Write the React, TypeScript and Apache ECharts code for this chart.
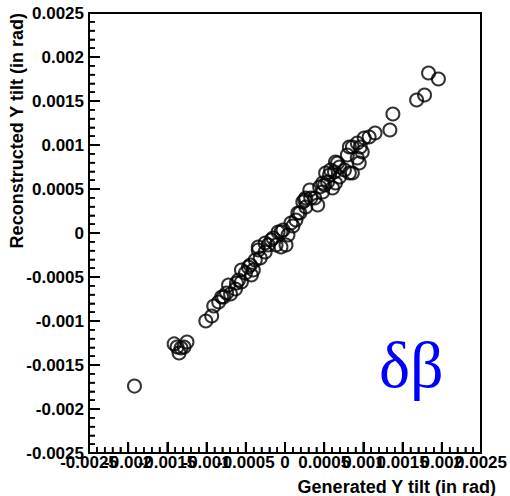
import React, { useEffect, useRef } from "react";
import * as echarts from "echarts";

const xTitle = "Generated Y tilt (in rad)";
const yTitle = "Reconstructed Y tilt (in rad)";
const label = "δβ";
const axisMin = -0.0025;
const axisMax = 0.0025;
const axisStep = 0.0005;
const minorPerMajor = 5;

const genX = [
  -0.00192, -0.001414, -0.001326, -0.001351, -0.00125, -0.001288, -0.001377,
  -0.00101, -0.000935, -0.000909, -0.000846, -0.000783, -0.000745, -0.000695, -0.000632, -0.000619,
  -0.000556, -0.000556, -0.000505, -0.000429, -0.000442, -0.000404, -0.000316, -0.000341, -0.000253,
  -0.000215, -0.000152, -0.000114, -0.000088, -0.000025, 0.000013, 0.000038, 0.000076, 0.000101,
  0.000139, 0.000189, 0.000227, 0.000265, 0.000265, 0.000316, 0.000328, 0.000379, 0.000417, 0.000442,
  0.00048, 0.000505, 0.000543, 0.00048, 0.000518, 0.000568, 0.000606, 0.000631, 0.000644, 0.000695,
  0.000695, 0.000758, 0.000821, 0.000644, 0.000795, 0.000821, 0.000859, 0.000922, 0.000947, 0.00096,
  0.000985, 0.00101, 0.001073, 0.001149, 0.001338, 0.001376, 0.001679, 0.00178, 0.001831, 0.001957,
  0.000859, 0.000669, -0.000051, -0.000177, -0.000253, -0.000341,
  -0.000808, -0.000467, -0.000379, 0.000164, 0.000253, 0.000581, 0.000922, -0.000051, -0.000593, -0.00072,
];

const recoY = [
  -0.00174, -0.00126, -0.001307, -0.001364, -0.001239, -0.001295, -0.001295,
  -0.001, -0.000943, -0.00083, -0.000784, -0.000727, -0.000682, -0.000693, -0.000636, -0.000568,
  -0.000557, -0.00042, -0.000454, -0.000477, -0.000364, -0.00042, -0.000284, -0.000193, -0.000216,
  -0.000136, -0.000057, -0.000136, 0.000011, 0.000034, -0.000136, -0.000023, 0.000114, 0.00008,
  0.000148, 0.000227, 0.000352, 0.000295, 0.000398, 0.000489, 0.000398, 0.000398, 0.000318, 0.000523,
  0.000568, 0.000545, 0.000579, 0.000466, 0.000682, 0.000659, 0.000511, 0.000693, 0.000568, 0.00075,
  0.000636, 0.000716, 0.000682, 0.000807, 0.000886, 0.000977, 0.000977, 0.000852, 0.000795, 0.000977,
  0.00092, 0.00108, 0.001091, 0.001136, 0.00117, 0.001352, 0.001511, 0.001568, 0.001818, 0.00175,
  0.000682, 0.000795, 0.000011, -0.00008, -0.000114, -0.000159,
  -0.000727, -0.000386, -0.000307, 0.000227, 0.000375, 0.000716, 0.001023, -0.000159, -0.000534, -0.000591,
];

const FONT = "'Liberation Sans', Arial, Helvetica, sans-serif";

const fmt = (v: number) => String(parseFloat(Number(v).toFixed(5)));
const stepIndex = (v: number) => Math.round((v - axisMin) / axisStep);

const labelStyle = {
  color: "#000",
  fontFamily: FONT,
  fontSize: 17,
  fontWeight: "bold" as const,
  hideOverlap: false,
};

const PLOT_W = 396;
const PLOT_H = 440;
const MAJOR_LEN = 11;
const MINOR_LEN = 6;

function baseAxis(position: string, interval = axisStep) {
  return {
    type: "value" as const,
    position,
    min: axisMin,
    max: axisMax,
    interval,
    splitLine: { show: false },
    minorSplitLine: { show: false },
    minorTick: { show: false },
  };
}

function helperAxis(len: number, span: number) {
  return { type: "value" as const, show: false, min: -len, max: span - len };
}

function tickAxis(position: string, interval: number, len: number, width: number, helperIndex: number) {
  return {
    ...baseAxis(position, interval),
    axisLine: { show: false, onZero: true, onZeroAxisIndex: helperIndex },
    axisTick: { show: true, inside: false, length: len, lineStyle: { color: "#000", width } },
    axisLabel: { show: true, formatter: () => "", fontSize: 1, color: "rgba(0,0,0,0)" },
  };
}

const lineOn = { axisLine: { show: true, onZero: false, lineStyle: { color: "#000", width: 2 } } };
const lineOff = { axisLine: { show: false, onZero: false } };
const tickOff = { axisTick: { show: false } };
const noLabel = { axisLabel: { show: false } };

function titleGraphics() {
  return [
    {
      type: "text",
      x: 496,
      y: 487,
      style: {
        text: xTitle,
        fill: "#000",
        font: `bold 18px ${FONT}`,
        textAlign: "right",
        textVerticalAlign: "middle",
      },
    },
    {
      type: "text",
      x: 17,
      y: 13,
      rotation: Math.PI / 2,
      style: {
        text: yTitle,
        fill: "#000",
        font: `bold 18px ${FONT}`,
        textAlign: "right",
        textVerticalAlign: "middle",
      },
    },
    {
      type: "text",
      x: 379,
      y: 364,
      style: {
        text: label,
        fill: "#0000ff",
        font: `66px 'Liberation Serif', 'DejaVu Serif', serif`,
        textAlign: "left",
        textVerticalAlign: "middle",
      },
    },
  ];
}

export default function App() {
  const ref = useRef<HTMLDivElement>(null);
  useEffect(() => {
    if (!ref.current) return;
    const chart = echarts.init(ref.current, undefined, { renderer: "svg" });
    const n = Math.min(genX.length, recoY.length);
    const pts: number[][] = [];
    for (let i = 0; i < n; i++) pts.push([genX[i], recoY[i]]);

    const minorStep = axisStep / minorPerMajor;
    const nTicks = Math.round((axisMax - axisMin) / minorStep);
    const tickVals: number[][] = [];
    for (let i = 0; i <= nTicks; i++) {
      tickVals.push([axisMin + i * minorStep, i % minorPerMajor === 0 ? 1 : 0]);
    }

    chart.setOption({
      animation: false,
      backgroundColor: "#fff",
      grid: { left: 89, right: 25, top: 13, bottom: 43, show: false, containLabel: false },
      xAxis: [
        {
          ...baseAxis("bottom"),
          ...lineOn,
          ...tickOff,
          axisLabel: {
            ...labelStyle,
            margin: 1,
            showMinLabel: true,
            showMaxLabel: true,
            formatter: (v: number) => (stepIndex(v) % 2 === 0 ? fmt(v) : ""),
          },
        },
        {
          ...baseAxis("bottom"),
          ...lineOff,
          ...tickOff,
          axisLabel: {
            ...labelStyle,
            margin: 1,
            formatter: (v: number) => (stepIndex(v) % 2 === 1 ? fmt(v) : ""),
          },
        },
        { ...baseAxis("top"), ...lineOn, ...tickOff, ...noLabel },
        helperAxis(MAJOR_LEN, PLOT_W),
        helperAxis(MINOR_LEN, PLOT_W),
        tickAxis("bottom", axisStep, MAJOR_LEN, 2, 2),
        tickAxis("bottom", minorStep, MINOR_LEN, 1.5, 3),
      ],
      yAxis: [
        {
          ...baseAxis("left"),
          ...lineOn,
          ...tickOff,
          axisLabel: { ...labelStyle, margin: 5, formatter: fmt, showMinLabel: true, showMaxLabel: true },
        },
        { ...baseAxis("right"), ...lineOn, ...tickOff, ...noLabel },
        helperAxis(MAJOR_LEN, PLOT_H),
        helperAxis(MINOR_LEN, PLOT_H),
        tickAxis("left", axisStep, MAJOR_LEN, 2, 3),
        tickAxis("left", minorStep, MINOR_LEN, 1.5, 4),
      ],
      series: [
        {
          type: "scatter",
          data: pts,
          xAxisIndex: 0,
          yAxisIndex: 0,
          symbol: "circle",
          symbolSize: 13,
          itemStyle: { color: "rgba(0,0,0,0)", borderColor: "#000", borderWidth: 2 },
          emphasis: { disabled: true },
        },
      ],
      graphic: titleGraphics(),
    });

    // tick marks placed through the chart's own scales (convertToPixel)
    const tickLines: any[] = [];
    try {
      for (const [v, isMajor] of tickVals) {
        const len = isMajor ? MAJOR_LEN : MINOR_LEN;
        const lw = isMajor ? 2 : 1.5;
        const px = chart.convertToPixel({ xAxisIndex: 0, yAxisIndex: 0 } as any, [v, axisMin]) as any;
        if (px && isFinite(px[0]) && isFinite(px[1])) {
          tickLines.push({
            type: "line",
            silent: true,
            z: 50,
            shape: { x1: px[0], y1: px[1], x2: px[0], y2: px[1] - len },
            style: { stroke: "#000", lineWidth: lw },
          });
        }
        const py = chart.convertToPixel({ xAxisIndex: 0, yAxisIndex: 0 } as any, [axisMin, v]) as any;
        if (py && isFinite(py[0]) && isFinite(py[1])) {
          tickLines.push({
            type: "line",
            silent: true,
            z: 50,
            shape: { x1: py[0], y1: py[1], x2: py[0] + len, y2: py[1] },
            style: { stroke: "#000", lineWidth: lw },
          });
        }
      }
      if (tickLines.length) {
        chart.setOption({ graphic: [...titleGraphics(), ...tickLines] });
      }
    } catch (e) {
      // keep the chart as drawn
    }
    return () => chart.dispose();
  }, []);
  return (
    <div
      ref={ref}
      style={{ position: "absolute", left: 0, top: 0, width: 510, height: 496 }}
    />
  );
}
